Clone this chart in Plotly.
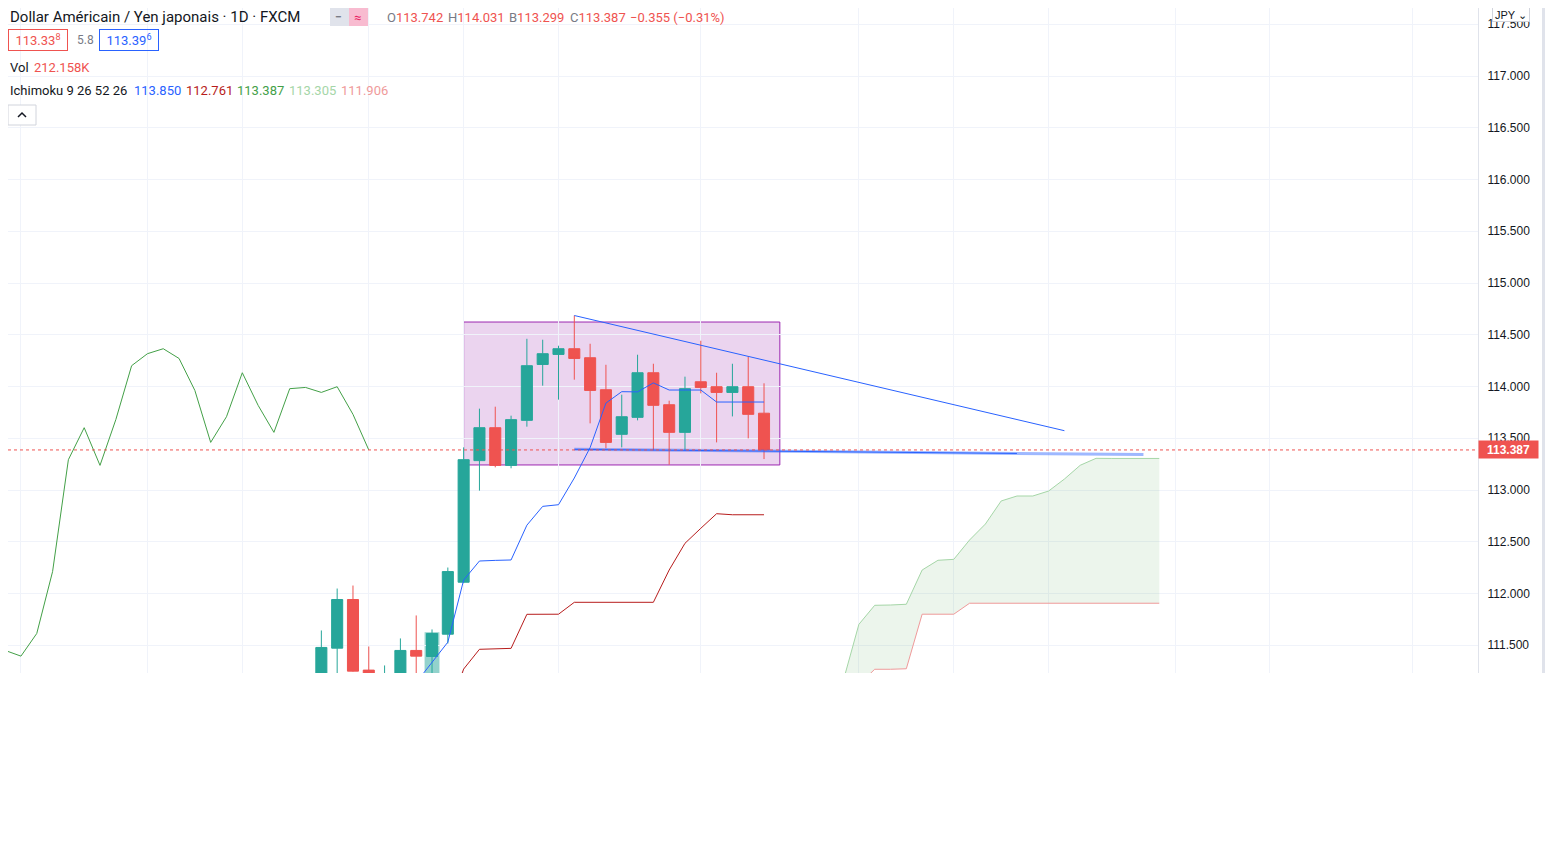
import plotly.graph_objects as go

# bar offsets relative to the current daily candle (0 = last bar)
bars = list(range(-28, 1))
opens = [111.10, 111.472, 111.942, 111.26, 110.85, 111.10, 111.45, 111.392, 111.607,
         112.109, 113.284, 113.602, 113.238, 113.673, 114.213, 114.310, 114.365, 114.278,
         113.969, 113.538, 113.702, 114.133, 113.824, 113.557, 114.046, 113.998, 113.943,
         113.998, 113.742]
highs = [111.643, 112.048, 112.077, 111.488, 111.305, 111.566, 111.788, 111.653, 112.251,
         113.412, 113.786, 113.805, 113.718, 114.461, 114.452, 114.394, 114.686, 114.413,
         114.210, 113.921, 114.307, 114.220, 113.863, 114.095, 114.442, 114.133, 114.220,
         114.288, 114.031]
lows = [111.00, 111.15, 111.245, 111.10, 110.80, 111.00, 111.20, 111.20, 111.517,
        112.10, 112.994, 113.219, 113.210, 113.612, 114.008, 113.873, 114.066, 113.644,
        113.403, 113.412, 113.673, 113.383, 113.245, 113.383, 113.934, 113.460, 113.711,
        113.499, 113.299]
closes = [111.479, 111.942, 111.250, 111.18, 111.00, 111.45, 111.395, 111.614, 112.212,
          113.293, 113.602, 113.238, 113.680, 114.201, 114.317, 114.365, 114.271, 113.962,
          113.460, 113.708, 114.133, 113.818, 113.557, 113.979, 113.991, 113.943, 113.998,
          113.731, 113.387]

# Ichimoku 9 26 52 26
tenkan_bars = list(range(-22, 1))
tenkan = [111.14, 111.33, 111.53, 112.13, 112.314, 112.32, 112.324, 112.66, 112.842,
          112.858, 113.116, 113.41, 113.84, 113.95, 113.948, 114.035, 113.966, 113.966,
          113.966, 113.85, 113.85, 113.85, 113.85]
kijun_bars = list(range(-20, 1))
kijun = [110.85, 111.27, 111.461, 111.465, 111.47, 111.799, 111.80, 111.80, 111.915,
         111.915, 111.915, 111.915, 111.915, 111.915, 112.227, 112.485, 112.63, 112.771,
         112.761, 112.761, 112.761]
cloud_bars = list(range(4, 26))
senkou_a = [110.90, 111.15, 111.702, 111.886, 111.889, 111.896, 112.227, 112.321, 112.330,
            112.517, 112.671, 112.894, 112.942, 112.942, 112.990, 113.106, 113.239, 113.306,
            113.305, 113.305, 113.305, 113.305]
senkou_b = [110.80, 110.85, 111.12, 111.268, 111.268, 111.273, 111.80, 111.80, 111.80,
            111.906, 111.906, 111.906, 111.906, 111.906, 111.906, 111.906, 111.906, 111.906,
            111.906, 111.906, 111.906, 111.906]
chikou_shift = 25

# drawings
trend_down_x = [-12, 19]
trend_down_y = [114.686, 113.573]
trend_flat_x = [-12, 24]
trend_flat_y = [113.393, 113.342]
box_x = [-19, 1]
box_y = [113.242, 114.623]
hover_bar = -21

last_price = 113.387
grid_bars = [-47, -39, -33, -25, -19, -13, -4, 6, 12, 18, 26, 32, 41]

UP = "#26A69A"
DOWN = "#EF5350"
TEXT = "#131722"
GREY = "#787B86"
FONT = "Roboto"

# the page body adds an 8px offset, so the figure is laid out in screen pixels minus 8
OFF = 8
FIG_W = 1553 - OFF
FIG_H = 857 - OFF
PLOT_W = 1478 - OFF
PLOT_H = 673 - OFF
ROW1 = 17  # header row, pushed down a little so it is not clipped at the top


def px(x):
    return (x - OFF) / PLOT_W


def py(y):
    return 1 - (y - OFF) / PLOT_H


def label(x, y, text, size=13, color=TEXT, **kw):
    return dict(
        xref="paper", yref="paper", x=px(x), y=py(y), text=text,
        showarrow=False, xanchor="left", yanchor="middle",
        font=dict(family=FONT, size=size, color=color), **kw,
    )


fig = go.Figure()

# cloud
fig.add_trace(go.Scatter(
    x=cloud_bars, y=senkou_b, mode="lines",
    line=dict(color="#EF9A9A", width=1), hoverinfo="skip",
))
fig.add_trace(go.Scatter(
    x=cloud_bars, y=senkou_a, mode="lines", fill="tonexty",
    fillcolor="rgba(67,160,71,0.1)",
    line=dict(color="#A5D6A7", width=1), hoverinfo="skip",
))

# lagging span = closes shifted back
fig.add_trace(go.Scatter(
    x=[b - chikou_shift for b in bars], y=closes, mode="lines",
    line=dict(color="#43A047", width=1), hoverinfo="skip",
))

fig.add_trace(go.Candlestick(
    x=bars, open=opens, high=highs, low=lows, close=closes,
    increasing=dict(line=dict(color=UP, width=1), fillcolor=UP),
    decreasing=dict(line=dict(color=DOWN, width=1), fillcolor=DOWN),
    whiskerwidth=0, hoverinfo="skip",
))

fig.add_trace(go.Scatter(
    x=tenkan_bars, y=tenkan, mode="lines",
    line=dict(color="#2962FF", width=1), hoverinfo="skip",
))
fig.add_trace(go.Scatter(
    x=kijun_bars, y=kijun, mode="lines",
    line=dict(color="#B71C1C", width=1), hoverinfo="skip",
))

# trend lines
fig.add_trace(go.Scatter(
    x=trend_down_x, y=trend_down_y, mode="lines",
    line=dict(color="#2962FF", width=1), hoverinfo="skip",
))
fig.add_trace(go.Scatter(
    x=trend_flat_x, y=trend_flat_y, mode="lines",
    line=dict(color="rgba(41,98,255,0.45)", width=3), hoverinfo="skip",
))
fig.add_trace(go.Scatter(
    x=[trend_flat_x[0], 16],
    y=[trend_flat_y[0], trend_flat_y[0] + (trend_flat_y[1] - trend_flat_y[0]) * 28 / 36],
    mode="lines", line=dict(color="#2962FF", width=1), hoverinfo="skip",
))

hi = bars.index(hover_bar)
shapes = [
    # purple rectangle drawing
    dict(type="rect", xref="x", yref="y", x0=box_x[0], x1=box_x[1],
         y0=box_y[0], y1=box_y[1], layer="below",
         fillcolor="rgba(156,39,176,0.2)", line=dict(color="#9C27B0", width=1)),
    # hovered candle highlight
    dict(type="rect", xref="x", yref="y", x0=hover_bar - 0.47, x1=hover_bar + 0.47,
         y0=lows[hi] - 0.3, y1=closes[hi] + 0.012, layer="below",
         fillcolor="rgba(38,166,154,0.5)", line=dict(width=0)),
    # last price dotted line
    dict(type="line", xref="paper", yref="y", x0=0, x1=1, y0=last_price, y1=last_price,
         line=dict(color=DOWN, width=1, dash="dot")),
    # pill toggle
    dict(type="rect", xref="paper", yref="paper", x0=px(330), x1=px(349),
         y0=py(ROW1 + 9), y1=py(ROW1 - 9), fillcolor="#E0E3EB", line=dict(width=0)),
    dict(type="rect", xref="paper", yref="paper", x0=px(349), x1=px(368),
         y0=py(ROW1 + 9), y1=py(ROW1 - 9), fillcolor="#F8BBD0", line=dict(width=0)),
    # collapse button
    dict(type="rect", xref="paper", yref="paper", x0=px(8), x1=px(36),
         y0=py(125), y1=py(105), fillcolor="white", line=dict(color="#D1D4DC", width=1)),
    dict(type="path", xref="paper", yref="paper",
         path=f"M {px(18)},{py(117)} L {px(22)},{py(113)} L {px(26)},{py(117)}",
         line=dict(color=TEXT, width=1.5)),
    # side toolbar edge
    dict(type="rect", xref="paper", yref="paper", x0=px(1542), x1=px(1547),
         y0=0, y1=1, fillcolor="#E0E3EB", line=dict(width=0)),
    dict(type="rect", xref="paper", yref="paper", x0=px(1548), x1=px(1556),
         y0=py(637), y1=py(608), fillcolor="white", line=dict(color="#2962FF", width=2)),
]

red = "<span style='color:#EF5350'>%s</span>"
annotations = [
    label(8, ROW1, "Dollar Américain / Yen japonais · 1D · FXCM", size=15),
    label(333, ROW1, "<b>−</b>", size=12, color=GREY),
    label(352, ROW1, "≈", size=13, color="#E91E63"),
    label(385, ROW1, "O" + red % "113.742", color=GREY),
    label(446, ROW1, "H" + red % "114.031", color=GREY),
    label(507, ROW1, "B" + red % "113.299", color=GREY),
    label(568, ROW1, "C" + red % "113.387", color=GREY),
    label(628, ROW1, red % "−0.355 (−0.31%)", color=GREY),
    label(8, 40, "113.33<sup>8</sup>", color=DOWN, width=56, height=18,
          bordercolor=DOWN, borderwidth=1, borderpad=1, align="center"),
    label(75, 40, "5.8", size=12, color=GREY),
    label(99, 40, "113.39<sup>6</sup>", color="#2962FF", width=56, height=18,
          bordercolor="#2962FF", borderwidth=1, borderpad=1, align="center"),
    label(8, 67, "Vol", color=TEXT),
    label(32, 67, "212.158K", color=DOWN),
    label(8, 91, "Ichimoku 9 26 52 26", color=TEXT),
    label(132, 91, "113.850", color="#2962FF"),
    label(184, 91, "112.761", color="#B71C1C"),
    label(235, 91, "113.387", color="#43A047"),
    label(287, 91, "113.305", color="#A5D6A7"),
    label(339, 91, "111.906", color="#EF9A9A"),
    # price scale widgets
    dict(xref="paper", yref="y", x=1.0, y=last_price, text="<b>113.387</b>",
         showarrow=False, xanchor="left", yanchor="middle", bgcolor=DOWN,
         width=55, height=13, borderpad=2,
         font=dict(family="Liberation Sans", size=12, color="white")),
    dict(xref="paper", yref="paper", x=px(1511), y=py(14.5), text="JPY ⌄",
         showarrow=False, xanchor="center", yanchor="middle", bgcolor="white",
         bordercolor="#D1D4DC", borderwidth=1, width=34, height=11, borderpad=1,
         font=dict(family="Liberation Sans", size=11, color=TEXT)),
]

fig.update_layout(
    width=FIG_W,
    height=FIG_H,
    margin=dict(l=0, r=FIG_W - PLOT_W, t=0, b=FIG_H - PLOT_H),
    paper_bgcolor="white",
    plot_bgcolor="white",
    showlegend=False,
    boxgap=0.3,
    boxgroupgap=0,
    shapes=shapes,
    annotations=annotations,
    xaxis=dict(
        range=[-47.82, 45.16],
        rangeslider=dict(visible=False),
        tickvals=grid_bars,
        showticklabels=False,
        ticks="",
        showgrid=True,
        gridcolor="#F0F3FA",
        zeroline=False,
        showline=False,
        fixedrange=True,
    ),
    yaxis=dict(
        side="right",
        range=[111.232, 117.657],
        dtick=0.5,
        tick0=0,
        tickformat=".3f",
        ticks="",
        ticklabelstandoff=6,
        showgrid=True,
        gridcolor="#F0F3FA",
        zeroline=False,
        showline=True,
        linecolor="#E0E3EB",
        tickfont=dict(family="Liberation Sans", size=12, color=TEXT),
        fixedrange=True,
    ),
)

fig.write_html("out.html")
